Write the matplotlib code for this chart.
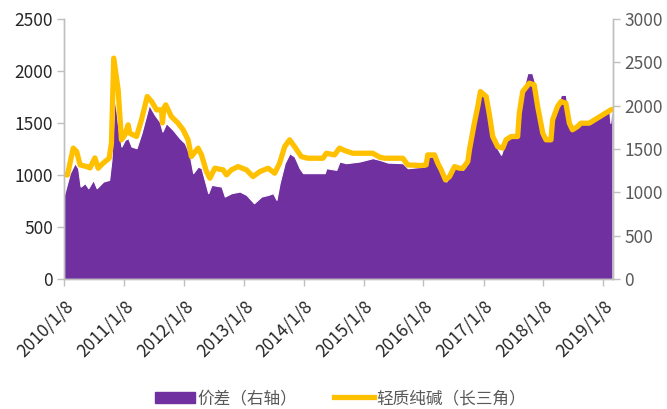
import matplotlib
matplotlib.use("Agg")
import matplotlib.pyplot as plt
from matplotlib.patches import Patch
from matplotlib.lines import Line2D
import pandas as pd

plt.rcParams['font.family'] = ['Noto Sans CJK SC', 'DejaVu Sans']

# 轻质纯碱（长三角） - left axis
soda_dates = [
    "2010-01-08", "2010-01-29", "2010-03-05", "2010-03-26", "2010-04-16", "2010-05-26", "2010-06-15",
    "2010-07-15", "2010-08-04", "2010-09-03", "2010-10-10", "2010-10-24", "2010-11-07",
    "2010-12-04", "2010-12-24", "2011-01-14", "2011-02-03", "2011-02-13", "2011-03-26",
    "2011-04-25", "2011-05-30", "2011-06-26", "2011-07-26", "2011-08-25", "2011-08-31",
    "2011-09-08", "2011-09-20", "2011-10-24", "2011-12-04", "2012-01-04", "2012-02-03",
    "2012-02-23", "2012-04-04", "2012-04-25", "2012-05-25", "2012-06-15", "2012-07-15",
    "2012-09-04", "2012-09-24", "2012-10-24", "2012-12-04", "2013-01-24", "2013-03-05",
    "2013-04-16", "2013-06-05", "2013-07-15", "2013-08-14", "2013-09-14", "2013-10-14",
    "2013-11-13", "2013-12-24", "2014-02-03", "2014-05-05", "2014-05-26", "2014-07-15",
    "2014-08-14", "2014-09-14", "2014-11-03", "2015-03-05", "2015-04-16", "2015-05-16",
    "2015-09-04", "2015-10-04", "2015-12-24", "2016-01-24", "2016-02-03", "2016-03-15",
    "2016-04-04", "2016-04-25", "2016-05-21", "2016-06-15", "2016-07-15", "2016-08-14",
    "2016-09-04", "2016-10-04", "2016-10-14", "2016-11-13", "2016-12-04", "2016-12-20",
    "2017-01-24", "2017-02-13", "2017-03-05", "2017-04-04", "2017-05-05", "2017-05-25",
    "2017-06-25", "2017-08-04", "2017-08-14", "2017-09-04", "2017-10-14", "2017-11-13",
    "2017-12-04", "2018-01-04", "2018-01-24", "2018-02-23", "2018-03-05", "2018-04-04",
    "2018-04-25", "2018-05-25", "2018-06-15", "2018-07-04", "2018-08-04", "2018-08-25",
    "2018-10-14", "2019-02-23", "2019-03-05",
]
soda_values = [
    1000, 1000, 1257, 1224, 1096, 1080, 1067,
    1163, 1064, 1112, 1160, 1306, 2122,
    1817, 1337, 1385, 1481, 1400, 1369,
    1529, 1753, 1705, 1625, 1625, 1500,
    1640, 1673, 1561, 1497, 1433, 1337,
    1176, 1257, 1192, 1032, 968, 1064,
    1048, 1000, 1048, 1080, 1048, 984,
    1032, 1064, 1016, 1112, 1272, 1337,
    1272, 1176, 1160, 1160, 1208, 1192,
    1257, 1234, 1208, 1208, 1170, 1160,
    1160, 1096, 1090, 1096, 1192, 1192,
    1112, 1048, 952, 984, 1080, 1064,
    1064, 1128, 1240, 1497, 1657, 1801,
    1753, 1577, 1369, 1272, 1257, 1337,
    1369, 1369, 1593, 1801, 1881, 1865,
    1657, 1401, 1337, 1337, 1529, 1657,
    1705, 1689, 1497, 1433, 1465, 1497,
    1497, 1625, 1630,
]

# 价差（右轴） - right axis
spread_dates = [
    "2010-01-08", "2010-02-13", "2010-03-15", "2010-04-04", "2010-04-19", "2010-05-16",
    "2010-06-05", "2010-07-05", "2010-07-26", "2010-09-04", "2010-10-10", "2010-10-24",
    "2010-11-13", "2010-12-04", "2010-12-24", "2011-01-14", "2011-02-03", "2011-02-23",
    "2011-03-26", "2011-04-25", "2011-06-10", "2011-07-15", "2011-08-14", "2011-08-31",
    "2011-09-23", "2011-11-03", "2011-12-14", "2012-01-14", "2012-02-13", "2012-03-05",
    "2012-04-04", "2012-04-25", "2012-06-05", "2012-06-25", "2012-08-25", "2012-09-14",
    "2012-10-24", "2012-12-14", "2013-01-24", "2013-03-11", "2013-04-25", "2013-06-05",
    "2013-07-05", "2013-07-26", "2013-08-14", "2013-09-14", "2013-10-14", "2013-11-13",
    "2013-12-14", "2014-01-04", "2014-05-16", "2014-05-26", "2014-07-26", "2014-08-14",
    "2014-09-24", "2014-12-14", "2015-03-05", "2015-04-16", "2015-06-05", "2015-09-04",
    "2015-10-04", "2016-01-14", "2016-02-03", "2016-03-15", "2016-05-05", "2016-05-26",
    "2016-07-15", "2016-09-04", "2016-10-04", "2016-10-14", "2016-11-13", "2016-12-04",
    "2016-12-20", "2017-01-24", "2017-02-13", "2017-03-05", "2017-04-04", "2017-04-25",
    "2017-05-25", "2017-06-25", "2017-08-04", "2017-08-14", "2017-09-04", "2017-10-02",
    "2017-11-01", "2017-11-19", "2017-12-04", "2018-01-04", "2018-01-24", "2018-02-23",
    "2018-03-05", "2018-04-04", "2018-04-25", "2018-05-25", "2018-06-15", "2018-07-04",
    "2018-08-04", "2018-08-25", "2018-10-14", "2019-02-13", "2019-02-20", "2019-02-27",
    "2019-03-05",
]
spread_values = [
    969, 1220, 1335, 1277, 1065, 1104,
    1046, 1142, 1046, 1123, 1142, 1373,
    2104, 1758, 1527, 1604, 1623, 1527,
    1508, 1681, 2008, 1892, 1815, 1700,
    1797, 1719, 1623, 1566, 1431, 1220,
    1296, 1277, 989, 1085, 1065, 950,
    989, 1008, 969, 873, 950, 969,
    989, 912, 1104, 1335, 1450, 1411,
    1277, 1220, 1220, 1277, 1258, 1354,
    1335, 1354, 1393, 1373, 1342, 1335,
    1277, 1296, 1411, 1411, 1220, 1123,
    1296, 1258, 1335, 1480, 1796, 1990,
    2181, 2104, 1892, 1643, 1500, 1431,
    1604, 1643, 1643, 1912, 2160, 2374,
    2374, 2250, 1990, 1680, 1604, 1604,
    1835, 1990, 2123, 2123, 1796, 1720,
    1760, 1796, 1796, 1960, 1800, 1965,
    1970,
]

left_ticks = [0, 500, 1000, 1500, 2000, 2500]
right_ticks = [0, 500, 1000, 1500, 2000, 2500, 3000]
tick_years = list(range(2010, 2020))
tick_labels = [f"{y}/1/8" for y in tick_years]

sd = pd.to_datetime(soda_dates)
pdates = pd.to_datetime(spread_dates)

PURPLE = "#7030A0"
GOLD = "#FFC000"
GRAY = "#BFBFBF"

fig = plt.figure(figsize=(6.67, 4.09), dpi=100)
ax_area = fig.add_axes([0.096, 0.318, 0.823, 0.636])
ax_line = ax_area.twinx()

ax_area.fill_between(pdates, 0, spread_values, color=PURPLE, linewidth=0.8,
                     edgecolor="white")
ax_area.set_ylim(0, 3000)
ax_line.plot(sd, soda_values, color=GOLD, linewidth=3.8, solid_joinstyle="round",
             solid_capstyle="round")
ax_line.set_ylim(0, 2500)

# swap sides: area ticks right, line ticks left
ax_area.yaxis.tick_right()
ax_line.yaxis.tick_left()
ax_line.set_zorder(ax_area.get_zorder() + 1)
ax_line.patch.set_visible(False)

xmin = pd.Timestamp("2010-01-08")
xmax = pd.Timestamp("2019-03-08")
ax_area.set_xlim(xmin, xmax)
tick_pos = [pd.Timestamp(f"{y}-01-08") for y in tick_years]
ax_area.set_xticks(tick_pos)
ax_area.set_xticklabels(tick_labels, rotation=45, ha="right", rotation_mode="anchor",
                        fontsize=12.5, color="#262626")

ax_area.set_yticks(right_ticks)
ax_area.set_yticklabels([str(v) for v in right_ticks], fontsize=12.5, color="#595959")
ax_line.set_yticks(left_ticks)
ax_line.set_yticklabels([str(v) for v in left_ticks], fontsize=12.5, color="#262626")

for a in (ax_area, ax_line):
    a.spines["top"].set_visible(False)
    for s in ("left", "right", "bottom"):
        a.spines[s].set_color(GRAY)
        a.spines[s].set_linewidth(1.0)
    a.tick_params(axis="both", color=GRAY, length=5, width=1.0, direction="out", pad=3)
ax_area.tick_params(axis="x", pad=8)

handles = [Patch(facecolor=PURPLE, edgecolor=PURPLE),
           Line2D([0], [0], color=GOLD, linewidth=3.8)]
fig.legend(handles, ["价差（右轴）", "轻质纯碱（长三角）"], loc="center",
           bbox_to_anchor=(0.51, 0.025), ncol=2, frameon=False, fontsize=12,
           labelcolor="#595959", handlelength=2.4, handletextpad=0.15,
           columnspacing=2.2)

fig.savefig("out.png", dpi=100)
